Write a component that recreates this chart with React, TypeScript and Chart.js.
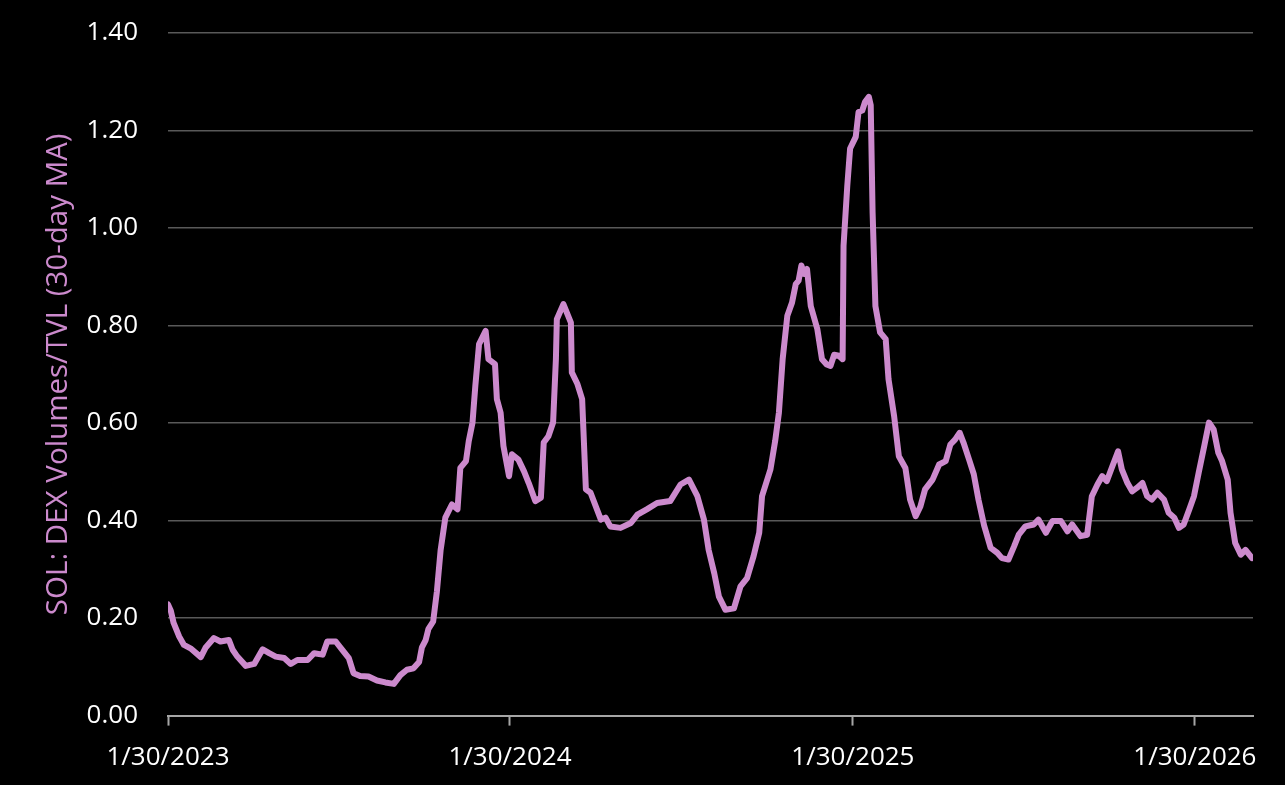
import React, { useEffect, useRef } from "react";
import { Chart, registerables } from "chart.js";

Chart.register(...registerables);

// Days since 1/30/2023
const days: number[] = [
  0, 3, 6, 12, 17, 24, 35, 40, 49, 56, 65, 69, 74, 83, 92, 101, 108, 115, 124, 131,
  138, 149, 156, 165, 170, 179, 186, 193, 198, 205, 214, 223, 232, 241, 248, 255, 262, 268, 271, 275,
  278, 283, 287, 291, 296, 303, 309, 312, 318, 321, 325, 328, 332, 339, 342, 349, 351, 355, 358, 364,
  367, 374, 380, 385, 392, 398, 401, 406, 411, 414, 415, 422, 430, 431, 437, 442, 446, 451, 462, 467,
  472, 483, 494, 501, 511, 522, 536, 547, 556, 565, 572, 577, 583, 588, 595, 604, 611, 618, 625, 631,
  634, 643, 648, 652, 656, 661, 666, 670, 673, 676, 679, 682, 686, 693, 698, 703, 707, 711, 716, 720,
  721, 725, 728, 734, 737, 741, 744, 748, 750, 752, 755, 760, 766, 769, 775, 780, 787, 792, 798, 803,
  808, 816, 823, 830, 835, 840, 845, 849, 855, 860, 865, 871, 878, 885, 890, 897, 903, 908, 915, 924,
  929, 937, 944, 953, 960, 965, 974, 981, 986, 992, 997, 1002, 1008, 1014, 1018, 1024, 1029, 1034, 1040, 1045,
  1050, 1056, 1063, 1068, 1074, 1079, 1084, 1090, 1095, 1100, 1106, 1111, 1116, 1121, 1125, 1131, 1134, 1139, 1145, 1150,
  1157,
];

// SOL: DEX Volumes / TVL (30-day MA)
const ratio: number[] = [
  0.228, 0.215, 0.19, 0.162, 0.145, 0.138, 0.12, 0.139, 0.159, 0.152, 0.155, 0.135, 0.121, 0.102, 0.106, 0.136, 0.128, 0.121, 0.118, 0.106,
  0.114, 0.114, 0.128, 0.125, 0.152, 0.152, 0.135, 0.118, 0.087, 0.081, 0.08, 0.072, 0.068, 0.065, 0.083, 0.094, 0.097, 0.11, 0.14, 0.155,
  0.178, 0.193, 0.255, 0.34, 0.406, 0.433, 0.423, 0.508, 0.522, 0.563, 0.601, 0.676, 0.762, 0.789, 0.731, 0.721, 0.649, 0.621, 0.553, 0.491,
  0.536, 0.525, 0.501, 0.477, 0.44, 0.447, 0.56, 0.573, 0.601, 0.731, 0.813, 0.844, 0.806, 0.704, 0.68, 0.649, 0.464, 0.457, 0.402, 0.406,
  0.388, 0.385, 0.395, 0.412, 0.423, 0.436, 0.44, 0.474, 0.484, 0.45, 0.402, 0.34, 0.292, 0.244, 0.217, 0.22, 0.265, 0.282, 0.327, 0.375,
  0.45, 0.505, 0.563, 0.621, 0.731, 0.82, 0.847, 0.885, 0.892, 0.923, 0.906, 0.916, 0.84, 0.793, 0.731, 0.72, 0.717, 0.74, 0.738, 0.731,
  0.964, 1.087, 1.163, 1.187, 1.238, 1.241, 1.259, 1.269, 1.252, 1.032, 0.84, 0.786, 0.772, 0.69, 0.614, 0.532, 0.508, 0.443, 0.409, 0.429,
  0.464, 0.484, 0.515, 0.522, 0.556, 0.566, 0.58, 0.56, 0.525, 0.495, 0.443, 0.39, 0.344, 0.334, 0.323, 0.32, 0.347, 0.371, 0.388, 0.392,
  0.402, 0.375, 0.399, 0.399, 0.378, 0.392, 0.368, 0.371, 0.45, 0.474, 0.491, 0.481, 0.512, 0.542, 0.505, 0.477, 0.46, 0.467, 0.477, 0.45,
  0.443, 0.457, 0.443, 0.416, 0.406, 0.385, 0.392, 0.423, 0.45, 0.498, 0.553, 0.601, 0.587, 0.539, 0.522, 0.484, 0.416, 0.354, 0.33, 0.34,
  0.323,
];

const xTickDays: number[] = [0, 365, 731, 1096];
const xTickLabels: string[] = ["1/30/2023", "1/30/2024", "1/30/2025", "1/30/2026"];
const xMaxDay = 1158;

const yTitle = "SOL: DEX Volumes/TVL (30-day MA)";
const lineColor = "#CC8ACD";
const fontFamily = "'Open Sans', sans-serif";

export default function App() {
  const canvasRef = useRef<HTMLCanvasElement | null>(null);

  useEffect(() => {
    document.body.style.margin = "0";
    document.body.style.background = "#000";
    const canvas = canvasRef.current;
    if (!canvas) return;
    const chart = new Chart(canvas, {
      type: "line",
      data: {
        datasets: [
          {
            label: yTitle,
            data: days.map((d, i) => ({ x: d, y: ratio[i] })),
            borderColor: lineColor,
            borderWidth: 6,
            pointRadius: 0,
            tension: 0,
            borderJoinStyle: "round",
            borderCapStyle: "round",
            fill: false,
          },
        ],
      },
      options: {
        animation: false,
        responsive: false,
        devicePixelRatio: 1,
        layout: { padding: { top: 33, right: 32, bottom: 0, left: 0 } },
        plugins: {
          legend: { display: false },
          tooltip: { enabled: false },
        },
        scales: {
          x: {
            type: "linear",
            min: 0,
            max: xMaxDay,
            afterBuildTicks: (scale: any) => {
              scale.ticks = xTickDays.map((v) => ({ value: v }));
            },
            afterFit: (scale: any) => {
              scale.height = 69.4;
            },
            grid: {
              display: true,
              drawOnChartArea: false,
              drawTicks: true,
              tickLength: 10,
              color: "#a6a6a6",
              tickColor: "#a6a6a6",
              tickWidth: 2,
            },
            border: { display: true, color: "#a6a6a6", width: 2 },
            ticks: {
              autoSkip: false,
              maxRotation: 0,
              minRotation: 0,
              padding: 16,
              color: "#ffffff",
              font: { family: fontFamily, size: 26 },
              callback: (value: any) => {
                const idx = xTickDays.indexOf(Number(value));
                return idx >= 0 ? xTickLabels[idx] : "";
              },
            },
          },
          y: {
            min: 0,
            max: 1.4,
            afterFit: (scale: any) => {
              scale.width = 168;
            },
            grid: {
              display: true,
              drawTicks: true,
              tickLength: 30,
              tickColor: "rgba(0,0,0,0)",
              color: "#595959",
              lineWidth: 1.5,
            },
            border: { display: false },
            ticks: {
              stepSize: 0.2,
              padding: 0,
              color: "#ffffff",
              font: { family: fontFamily, size: 26 },
              callback: (value: any) => Number(value).toFixed(2),
            },
            title: {
              display: true,
              text: yTitle,
              color: lineColor,
              font: { family: fontFamily, size: 29.5 },
              padding: { top: 41, bottom: 0 },
            },
          },
        },
      },
    });
    return () => chart.destroy();
  }, []);

  return (
    <div style={{ width: 1285, height: 785, background: "#000", position: "relative" }}>
      <canvas ref={canvasRef} width={1285} height={785} style={{ width: 1285, height: 785, display: "block" }} />
    </div>
  );
}
